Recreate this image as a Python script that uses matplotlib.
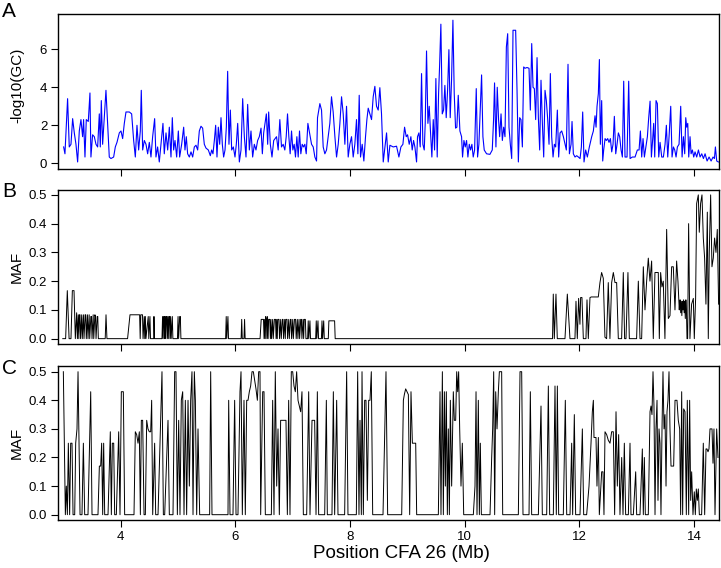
import matplotlib
matplotlib.use("Agg")
import matplotlib.pyplot as plt

plt.rcParams['font.family'] = ['Liberation Sans', 'DejaVu Sans']

# ---------------- Panel A : -log10(GC) ----------------
a_pos = [3.005, 3.028, 3.074, 3.103, 3.133, 3.162, 3.191, 3.220, 3.249, 3.278, 3.307, 3.336, 3.353, 3.377, 3.400,
         3.435, 3.464, 3.481, 3.510, 3.540, 3.569, 3.598, 3.627, 3.644, 3.662, 3.685, 3.714, 3.743, 3.772, 3.801,
         3.830, 3.877, 3.906, 3.935, 3.976, 4.005, 4.034, 4.063, 4.092, 4.150, 4.191, 4.226, 4.255, 4.284, 4.313,
         4.342, 4.359, 4.383, 4.412, 4.441, 4.470, 4.499, 4.528, 4.557, 4.592, 4.615, 4.644, 4.673, 4.702, 4.737,
         4.760, 4.790, 4.819, 4.848, 4.877, 4.900, 4.923, 4.947, 4.976, 5.005, 5.028, 5.063, 5.098, 5.121, 5.144,
         5.167, 5.197, 5.226, 5.255, 5.284, 5.313, 5.342, 5.371, 5.400, 5.429, 5.458, 5.487, 5.528, 5.563, 5.586,
         5.609, 5.633, 5.656, 5.679, 5.702, 5.726, 5.749, 5.772, 5.795, 5.819, 5.842, 5.865, 5.888, 5.912, 5.935,
         5.964, 5.993, 6.016, 6.040, 6.069, 6.098, 6.127, 6.156, 6.185, 6.214, 6.243, 6.272, 6.301, 6.330, 6.359,
         6.388, 6.417, 6.447, 6.470, 6.493, 6.516, 6.540, 6.563, 6.580, 6.609, 6.638, 6.668,
         6.717, 6.746, 6.775, 6.804, 6.833, 6.862, 6.886, 6.909, 6.932, 6.955, 6.979, 7.002, 7.025, 7.048, 7.072,
         7.095, 7.118, 7.141, 7.165, 7.188, 7.211, 7.235, 7.264, 7.293, 7.328, 7.357, 7.386, 7.415, 7.432, 7.473,
         7.502, 7.531, 7.560, 7.589, 7.618, 7.647, 7.676, 7.705, 7.735, 7.764, 7.793, 7.822, 7.851, 7.880, 7.909,
         7.938, 7.967, 7.996, 8.025, 8.054, 8.083, 8.112, 8.136, 8.159, 8.182, 8.211, 8.240, 8.269, 8.293, 8.316,
         8.345, 8.374, 8.403, 8.432, 8.461, 8.490, 8.519, 8.548, 8.578, 8.607, 8.636, 8.665, 8.694, 8.752, 8.810,
         8.851, 8.886, 8.921, 8.950, 8.979, 9.002, 9.031, 9.060, 9.083, 9.107, 9.130, 9.159, 9.176, 9.200, 9.223,
         9.246, 9.269, 9.293, 9.310, 9.333, 9.357, 9.380, 9.403, 9.426, 9.450, 9.473, 9.496, 9.519, 9.543, 9.560,
         9.583, 9.607, 9.630, 9.653, 9.676, 9.700, 9.723, 9.746, 9.769, 9.793, 9.816, 9.839, 9.862, 9.886, 9.915,
         9.944, 9.961, 9.985, 10.008, 10.031, 10.054, 10.078, 10.101, 10.124, 10.147, 10.171, 10.200, 10.223,
         10.246, 10.269, 10.293, 10.316, 10.339, 10.380, 10.438, 10.479, 10.502, 10.519, 10.543, 10.566, 10.589,
         10.608, 10.632, 10.655, 10.678, 10.701, 10.725, 10.748, 10.771, 10.794, 10.818, 10.841, 10.864, 10.887,
         10.911, 10.934, 10.957, 10.980, 11.004, 11.027, 11.050, 11.085, 11.120, 11.143, 11.167, 11.190, 11.213,
         11.236, 11.260, 11.283, 11.306, 11.329, 11.353, 11.376, 11.399, 11.422, 11.446, 11.469, 11.492, 11.515,
         11.539, 11.562, 11.585, 11.614, 11.637, 11.661, 11.690, 11.719, 11.748, 11.771, 11.800, 11.824, 11.853,
         11.870, 11.893, 11.922, 11.951, 11.981, 12.010, 12.033, 12.056, 12.079, 12.108, 12.137, 12.172, 12.213,
         12.242, 12.271, 12.289, 12.306, 12.329, 12.347, 12.364, 12.387, 12.405, 12.422, 12.446, 12.469, 12.492,
         12.515, 12.539, 12.562, 12.585, 12.608, 12.632, 12.655, 12.678, 12.701, 12.725, 12.748, 12.771, 12.794,
         12.829, 12.858, 12.882, 12.922, 12.969, 13.009, 13.039, 13.062, 13.085, 13.108, 13.132, 13.155, 13.184,
         13.207, 13.231, 13.254, 13.277, 13.294, 13.312, 13.335, 13.358, 13.382, 13.405, 13.434, 13.463, 13.492,
         13.515, 13.539, 13.562, 13.591, 13.614, 13.638, 13.661, 13.684, 13.707, 13.736, 13.765, 13.789, 13.812,
         13.835, 13.853, 13.870, 13.888, 13.905, 13.928, 13.946, 13.969, 13.992, 14.015, 14.044, 14.074, 14.103,
         14.132, 14.161, 14.190, 14.225, 14.260, 14.295, 14.329, 14.353, 14.370, 14.393, 14.422]
a_val = [0.86, 0.5, 3.4, 0.86, 1.0, 2.35, 1.6, 1.0, 0.07, 1.7, 2.3, 1.4, 2.3, 0.33, 2.3,
         2.2, 3.7, 0.33, 1.5, 1.4, 1.0, 0.86, 2.6, 0.86, 3.3, 1.0, 2.4, 3.84, 2.1, 0.33,
         0.25, 0.33, 0.86, 1.1, 1.6, 1.7, 1.3, 2.1, 2.7, 2.7, 2.6, 1.2, 0.33, 2.0, 0.7,
         1.7, 3.84, 0.7, 1.2, 1.0, 0.5, 1.1, 0.33, 1.4, 2.35, 0.33, 0.86, 0.07, 1.0, 2.1,
         0.5, 1.6, 0.7, 1.9, 0.33, 2.4, 0.7, 1.2, 0.33, 1.7, 0.33, 1.0, 1.9, 0.7, 1.4,
         0.5, 0.33, 0.6, 0.33, 0.86, 0.95, 0.7, 1.7, 1.95, 1.85, 1.0, 0.8, 0.7, 0.4, 0.7,
         0.5, 1.2, 2.0, 0.33, 1.9, 1.0, 2.4, 1.0, 0.33, 0.7, 1.9, 4.84, 1.0, 2.8, 0.7,
         0.86, 0.33, 1.0, 2.1, 0.07, 0.7, 3.4, 1.4, 0.33, 3.1, 0.7, 1.7, 0.33, 1.0, 0.7,
         1.2, 1.4, 1.85, 0.5, 1.6, 2.1, 2.6, 1.0, 2.7, 1.0, 0.33, 1.2,
         1.4, 0.7, 2.3, 0.86, 1.0, 0.7, 1.4, 2.6, 1.4, 0.5, 1.7, 0.7, 1.0, 0.33, 1.4,
         0.33, 1.7, 0.5, 1.0, 0.86, 1.0, 0.5, 2.1, 1.6, 1.0, 0.86, 0.33, 0.12, 2.4, 3.14,
         2.8, 0.86, 0.5, 0.7, 1.4, 2.1, 3.5, 2.7, 1.4, 0.33, 1.0, 2.1, 3.5, 2.6, 1.0,
         3.0, 0.33, 1.0, 1.4, 0.33, 1.0, 2.3, 0.5, 3.58, 0.33, 1.0, 0.12, 1.4, 2.3, 2.9,
         2.6, 2.3, 3.5, 4.05, 3.0, 2.8, 3.98, 2.6, 0.07, 0.86, 1.6, 0.07, 0.95, 0.86, 0.9,
         0.33, 0.86, 1.0, 1.9, 1.4, 1.5, 1.0, 1.4, 0.7, 1.2, 0.86, 0.07, 1.4, 1.6, 0.86,
         4.72, 1.0, 0.7, 2.1, 5.91, 2.1, 3.0, 1.6, 0.33, 2.3, 0.7, 4.46, 0.33, 3.67, 5.07,
         7.32, 2.6, 2.8, 4.1, 2.4, 3.84, 5.98, 2.4, 4.37, 7.53, 3.67, 1.85, 1.9, 3.58, 1.7,
         1.4, 0.33, 1.2, 0.86, 1.2, 0.33, 1.0, 0.7, 1.0, 0.33, 0.7, 3.93, 0.33,
         1.0, 2.8, 4.65, 1.4, 0.7, 0.5, 0.47, 0.7, 2.3, 4.23, 0.86, 4.0, 2.3,
         1.4, 2.6, 1.2, 1.9, 1.4, 6.12, 6.82, 1.9, 1.0, 0.25, 7.0, 7.0, 7.0,
         3.84, 0.07, 2.4, 2.3, 0.86, 5.07, 5.0, 5.04, 5.0, 2.8, 6.3, 4.0, 3.93,
         2.3, 5.56, 2.4, 0.7, 4.37, 2.1, 0.33, 3.84, 3.3, 2.3, 1.0, 4.72, 1.4,
         0.33, 1.0, 0.86, 2.8, 0.33, 1.6, 1.7, 1.4, 1.0, 0.7, 5.21, 0.5, 1.0,
         2.2, 0.5, 0.33, 0.4, 0.33, 0.25, 0.86, 2.7, 0.07, 0.7, 0.33, 0.86, 1.4,
         1.7, 2.5, 1.9, 3.0, 3.67, 5.46, 1.0, 3.3, 0.12, 0.7, 1.3, 1.2, 1.3,
         1.1, 1.3, 0.6, 1.0, 2.47, 0.5, 1.0, 1.6, 1.4, 0.7, 0.33, 4.32, 0.33,
         0.33, 4.32, 0.25, 0.33, 0.33, 0.7, 0.7, 1.7, 0.33, 1.3, 0.33, 0.8, 1.4,
         2.4, 3.27, 0.33, 1.3, 2.1, 0.33, 3.3, 3.14, 0.33, 1.1, 0.33, 0.33, 1.0,
         2.0, 0.33, 1.4, 3.0, 0.33, 0.86, 0.7, 0.33, 0.86, 1.0, 3.0, 0.33, 1.4,
         0.5, 2.4, 1.9, 2.1, 0.33, 1.4, 0.5, 0.7, 0.33, 0.6, 0.33, 0.7, 0.33,
         0.5, 0.25, 0.5, 0.12, 0.33, 0.12, 0.33, 0.25, 0.86, 0.12, 0.07]

# ---------------- Panel B : MAF ----------------
b_pos = [2.99, 3.04, 3.069, 3.10, 3.133, 3.157, 3.186, 3.209, 3.232, 3.245, 3.26, 3.27, 3.28, 3.29, 3.30,
         3.32, 3.33, 3.35, 3.36, 3.38, 3.39, 3.40, 3.42, 3.43, 3.45, 3.46, 3.48, 3.49, 3.50, 3.52, 3.53,
         3.55, 3.56, 3.57, 3.59, 3.60, 3.61, 3.73, 3.744, 3.76, 4.12, 4.162, 4.33, 4.34, 4.35, 4.38, 4.39,
         4.41, 4.42, 4.43, 4.44, 4.48, 4.49, 4.51, 4.52, 4.575, 4.58, 4.59, 4.72, 4.73, 4.74, 4.75, 4.76,
         4.765, 4.77, 4.78, 4.79, 4.80, 4.81, 4.82, 4.83, 4.84, 4.85, 4.86, 4.87, 4.88, 4.90, 4.91, 4.99,
         5.00, 5.01, 5.03, 5.04, 5.05, 5.83, 5.84, 5.85, 5.87, 5.88, 6.10, 6.11, 6.12, 6.15, 6.16, 6.17,
         6.43, 6.45, 6.49, 6.50, 6.51, 6.52, 6.53, 6.54, 6.55, 6.56, 6.57, 6.58, 6.60, 6.61, 6.62, 6.63,
         6.65, 6.66, 6.68, 6.70, 6.71, 6.72, 6.73, 6.74, 6.76, 6.77, 6.79, 6.80, 6.82, 6.83, 6.84, 6.86,
         6.87, 6.88, 6.90, 6.91, 6.93, 6.94, 6.96, 6.97, 6.98, 7.00, 7.01, 7.03, 7.05, 7.06, 7.08, 7.09,
         7.11, 7.12, 7.14, 7.15, 7.16, 7.18, 7.19, 7.20, 7.22, 7.23, 7.26, 7.27, 7.28, 7.30, 7.31, 7.40,
         7.41, 7.42, 7.44, 7.45, 7.50, 7.51, 7.52, 7.54, 7.55, 7.62, 7.63, 7.73, 7.74,
         11.53, 11.543, 11.561, 11.59, 11.613, 11.747, 11.788, 11.834, 11.921, 11.939, 11.962, 11.985,
         12.008, 12.02, 12.043, 12.067, 12.113, 12.131, 12.154, 12.183, 12.206, 12.328, 12.357, 12.386,
         12.415, 12.444, 12.473, 12.502, 12.531, 12.561, 12.59, 12.619, 12.648, 12.677, 12.735, 12.764,
         12.787, 12.811, 12.845, 12.869, 12.996, 13.026, 13.055, 13.084, 13.113, 13.142, 13.171, 13.2,
         13.229, 13.258, 13.287, 13.316, 13.345, 13.374, 13.392, 13.415, 13.438, 13.461, 13.49, 13.52,
         13.549, 13.578, 13.607, 13.636, 13.665, 13.694, 13.717, 13.74, 13.745, 13.755, 13.765, 13.775,
         13.785, 13.795, 13.805, 13.815, 13.825, 13.835, 13.845, 13.855, 13.865, 13.875, 13.886, 13.903,
         13.926, 13.955, 13.985, 14.002, 14.025, 14.043, 14.072, 14.089, 14.112, 14.136, 14.159, 14.182,
         14.205, 14.229, 14.246, 14.263, 14.287, 14.31, 14.333, 14.356, 14.38, 14.403, 14.426]
b_val = [0, 0, 0.167, 0, 0, 0.167, 0.167, 0, 0.09, 0, 0.083, 0, 0.083, 0.083, 0,
         0.083, 0, 0.083, 0, 0.083, 0.083, 0, 0.083, 0, 0.083, 0, 0.077, 0.077, 0, 0.083, 0,
         0.083, 0.077, 0, 0.077, 0.077, 0, 0, 0.083, 0, 0, 0.083, 0.083, 0, 0.083, 0.083, 0,
         0.077, 0, 0.077, 0, 0.077, 0, 0.077, 0, 0, 0.077, 0, 0, 0.077, 0, 0.077, 0.077,
         0, 0.077, 0, 0.077, 0.077, 0, 0.077, 0, 0.077, 0.077, 0, 0.077, 0, 0.077, 0, 0,
         0.077, 0, 0.077, 0.077, 0, 0, 0.077, 0, 0.077, 0, 0, 0.067, 0, 0, 0.067, 0,
         0, 0.067, 0.067, 0, 0.067, 0, 0.077, 0.067, 0, 0.077, 0, 0.067, 0.067, 0, 0.067, 0,
         0.067, 0, 0.067, 0.067, 0, 0.067, 0, 0.067, 0.067, 0, 0.067, 0, 0.067, 0.067, 0, 0.067,
         0, 0.067, 0.067, 0, 0.067, 0, 0.067, 0.067, 0, 0.067, 0, 0.067, 0.067, 0, 0.067, 0,
         0.067, 0, 0.067, 0.067, 0, 0.067, 0, 0.067, 0.067, 0, 0, 0.062, 0, 0.062, 0, 0,
         0.062, 0, 0.062, 0, 0, 0.062, 0, 0.062, 0, 0, 0.062, 0.062, 0,
         0, 0.155, 0, 0.155, 0, 0, 0.155, 0, 0, 0.13, 0, 0.14,
         0.05, 0.143, 0.143, 0, 0, 0.135, 0, 0.143, 0.145, 0.145, 0.195, 0.23,
         0.21, 0.005, 0, 0.195, 0, 0.195, 0.23, 0.195, 0.195, 0, 0, 0.23,
         0, 0, 0.23, 0, 0, 0.2, 0, 0, 0.25, 0.1, 0.2, 0.28,
         0.2, 0.27, 0, 0.23, 0.23, 0.23, 0, 0.23, 0.18, 0.2, 0, 0.38,
         0.07, 0.08, 0.25, 0.25, 0.1, 0.27, 0.2, 0.1, 0.12, 0.135, 0.09, 0.13,
         0.08, 0.13, 0.1, 0.135, 0.09, 0.13, 0.07, 0.135, 0.1, 0.0, 0, 0.4,
         0, 0.12, 0.14, 0, 0.14, 0.47, 0.5, 0.37, 0.47, 0.5, 0.35, 0.28,
         0.12, 0.44, 0, 0.3, 0.5, 0.25, 0.28, 0.35, 0.3, 0.38, 0.12]

# ---------------- Panel C : MAF ----------------
c_pos = [3.0, 3.035, 3.052, 3.070, 3.087, 3.110, 3.128, 3.151, 3.169, 3.198, 3.215, 3.238, 3.256, 3.273, 3.291,
         3.325, 3.349, 3.372, 3.430, 3.477, 3.500, 3.604, 3.628, 3.651, 3.668, 3.686, 3.703, 3.721, 3.779, 3.819,
         3.837, 3.854, 3.878, 3.895, 3.924, 3.965, 3.988, 4.011, 4.046, 4.069, 4.232, 4.255, 4.279, 4.302, 4.325,
         4.343, 4.360, 4.383, 4.407, 4.430, 4.453, 4.476, 4.499, 4.523, 4.540, 4.558, 4.592, 4.610, 4.651, 4.720,
         4.744, 4.767, 4.825, 4.848, 4.912, 4.941, 4.964, 4.988, 5.011, 5.034, 5.057, 5.081, 5.104, 5.127, 5.150,
         5.174, 5.197, 5.220, 5.243, 5.261, 5.284, 5.302, 5.325, 5.348, 5.377, 5.551, 5.569, 5.592, 5.871, 5.883,
         5.906, 5.958, 5.987, 6.011, 6.045, 6.080, 6.098, 6.121, 6.150, 6.173, 6.197, 6.220, 6.243, 6.266, 6.290,
         6.313, 6.336, 6.359, 6.383, 6.406, 6.429, 6.441, 6.476, 6.499, 6.522, 6.627, 6.650, 6.673, 6.696, 6.720,
         6.743, 6.766, 6.789, 6.813, 6.836, 6.882, 6.906, 6.929, 6.952, 6.975, 6.999, 7.022, 7.045, 7.068, 7.092,
         7.115, 7.138, 7.161, 7.185, 7.243, 7.278, 7.301, 7.336, 7.359, 7.382, 7.406, 7.429, 7.452, 7.557, 7.586,
         7.603, 7.684, 7.708, 7.731, 7.766, 7.789, 7.905, 7.940, 7.963, 8.109, 8.132, 8.155, 8.173, 8.196, 8.208,
         8.231, 8.254, 8.277, 8.301, 8.324, 8.347, 8.370, 8.394, 8.487, 8.574,
         8.626, 8.655, 8.900, 8.929, 8.946, 8.969, 8.993, 9.016, 9.039, 9.062, 9.086, 9.120, 9.144, 9.161, 9.539,
         9.568, 9.585, 9.609, 9.626, 9.644, 9.661, 9.678, 9.696, 9.713, 9.731, 9.748, 9.771, 9.800, 9.818, 9.841,
         9.859, 9.876, 9.893, 9.911, 9.934, 9.957, 9.981, 10.149, 10.178, 10.196, 10.213, 10.236, 10.254, 10.271,
         10.289, 10.440, 10.469, 10.486, 10.504, 10.521, 10.539, 10.562, 10.585, 10.603, 10.620, 10.643, 10.661,
         10.934, 10.963, 10.992, 11.015, 11.120, 11.143, 11.166, 11.283, 11.329, 11.352, 11.428, 11.457, 11.480,
         11.544, 11.573, 11.596, 11.614, 11.637, 11.718, 11.753, 11.777, 11.835, 11.864, 11.881, 11.910, 11.933,
         12.009, 12.050, 12.073, 12.125, 12.166, 12.201, 12.224, 12.242, 12.253, 12.271, 12.288, 12.305, 12.329,
         12.346, 12.387, 12.410, 12.427, 12.445, 12.474, 12.503, 12.532, 12.561, 12.590, 12.613, 12.637, 12.660,
         12.683, 12.706, 12.736, 12.759, 12.782, 12.805, 12.852, 12.881, 12.898, 12.939, 12.980, 12.997, 13.055,
         13.096, 13.113, 13.131, 13.148, 13.200, 13.230, 13.247, 13.264, 13.282, 13.299, 13.317, 13.334, 13.352,
         13.369, 13.387, 13.404, 13.421, 13.439, 13.456, 13.474, 13.491, 13.509, 13.526, 13.543, 13.561, 13.578,
         13.596, 13.619, 13.642, 13.666, 13.683, 13.700, 13.723, 13.747, 13.764, 13.782, 13.799, 13.817, 13.840,
         13.863, 13.880, 13.904, 13.921, 13.939, 13.956, 13.979, 14.002, 14.020, 14.037, 14.055, 14.072, 14.090,
         14.130, 14.159, 14.183, 14.206, 14.223, 14.241, 14.258, 14.276, 14.293, 14.311, 14.328, 14.345, 14.363,
         14.392, 14.415]
c_val = [0.5, 0, 0.1, 0, 0.25, 0, 0.25, 0.25, 0, 0, 0.25, 0.3, 0.5, 0.25, 0,
         0, 0.25, 0, 0, 0.43, 0, 0, 0.17, 0.17, 0.25, 0, 0.25, 0, 0, 0.29,
         0, 0.25, 0.25, 0, 0, 0.29, 0, 0.43, 0.43, 0, 0, 0.29, 0.28, 0.25, 0.29,
         0, 0.33, 0.33, 0, 0, 0.33, 0.3, 0.29, 0.29, 0.4, 0, 0.25, 0, 0, 0.5,
         0, 0, 0.33, 0, 0, 0.5, 0.5, 0, 0.33, 0, 0.4, 0.43, 0, 0.4, 0,
         0.4, 0.1, 0.4, 0.5, 0, 0.5, 0.4, 0, 0.3, 0, 0, 0.5, 0, 0, 0.4,
         0, 0, 0.4, 0, 0, 0.43, 0.5, 0, 0.4, 0, 0.4, 0.4, 0.43, 0.45, 0.5,
         0.5, 0.47, 0.44, 0.4, 0.5, 0.5, 0, 0.43, 0.43, 0, 0, 0.4, 0, 0.5, 0.1,
         0.3, 0, 0.33, 0.33, 0.33, 0.33, 0, 0.4, 0, 0.5, 0.5, 0.45, 0.43, 0.5, 0.4,
         0.38, 0.36, 0.43, 0, 0, 0.43, 0, 0.33, 0.33, 0.33, 0, 0.43, 0, 0, 0.4,
         0, 0, 0.43, 0, 0.4, 0, 0, 0.5, 0, 0, 0.5, 0, 0.33, 0, 0.5,
         0, 0.4, 0.4, 0.05, 0.4, 0.4, 0.5, 0, 0, 0,
         0.5, 0, 0, 0.4, 0.42, 0.44, 0.43, 0.42, 0, 0.43, 0.25, 0.25, 0.25, 0, 0,
         0.43, 0, 0.5, 0, 0.43, 0.1, 0.43, 0, 0.3, 0, 0.4, 0.1, 0.43, 0.33, 0.33,
         0.5, 0.43, 0.5, 0.3, 0.1, 0.25, 0, 0, 0.1, 0.43, 0, 0.4, 0, 0.25,
         0, 0, 0.2, 0.3, 0.5, 0, 0.43, 0.3, 0.43, 0.5, 0.5, 0.5, 0,
         0, 0.5, 0.5, 0, 0, 0.43, 0, 0, 0.38, 0, 0, 0.45, 0,
         0, 0.45, 0, 0.45, 0, 0, 0.4, 0, 0, 0.25, 0, 0.35, 0,
         0, 0.3, 0, 0, 0.1, 0.25, 0.36, 0.4, 0.27, 0.27, 0.27, 0.1, 0.27,
         0, 0.15, 0.15, 0, 0.29, 0.28, 0.26, 0.25, 0.29, 0.29, 0, 0.36, 0.1,
         0.28, 0, 0.2, 0, 0.25, 0, 0, 0.25, 0, 0, 0.15, 0, 0,
         0.23, 0, 0.2, 0, 0, 0.36, 0.38, 0.35, 0.5, 0.38, 0, 0.3, 0.4,
         0.05, 0.3, 0.25, 0, 0.3, 0.5, 0.3, 0.35, 0.1, 0.36, 0.4, 0.5, 0.3,
         0.17, 0.17, 0.17, 0.4, 0.4, 0.4, 0.33, 0.3, 0, 0.43, 0, 0.37, 0.36,
         0, 0.4, 0, 0.4, 0.05, 0.15, 0, 0.08, 0, 0.09, 0.05, 0.09, 0,
         0, 0.25, 0, 0.23, 0.23, 0.22, 0.23, 0.3, 0.3, 0.3, 0.18, 0.3, 0,
         0.3, 0.2]

x_ticks = [4, 6, 8, 10, 12, 14]
a_yticks = [0, 2, 4, 6]
maf_yticks = [0.0, 0.1, 0.2, 0.3, 0.4, 0.5]
x_label = "Position CFA 26 (Mb)"
a_ylabel = "-log10(GC)"
maf_ylabel = "MAF"

fig = plt.figure(figsize=(7.21, 5.68), dpi=100)
L, W = 58.3 / 721, 661.0 / 721
axA = fig.add_axes([L, 1 - 169.3 / 568, W, 155.0 / 568])
axB = fig.add_axes([L, 1 - 344.0 / 568, W, 154.0 / 568])
axC = fig.add_axes([L, 1 - 520.3 / 568, W, 154.6 / 568])

axA.plot(a_pos, a_val, color='#0000ff', lw=0.8)
axB.plot(b_pos, b_val, color='black', lw=0.7)
axC.plot(c_pos, c_val, color='black', lw=0.7)

axA.set_ylim(-0.316, 7.84)
axB.set_ylim(-0.0186, 0.517)
axC.set_ylim(-0.0196, 0.521)
axA.set_yticks(a_yticks)
axB.set_yticks(maf_yticks)
axC.set_yticks(maf_yticks)

for ax in (axA, axB, axC):
    ax.set_xlim(2.912, 14.438)
    ax.set_xticks(x_ticks)
    ax.tick_params(direction='out', length=5, width=0.8, labelsize=9.5, pad=3, colors='black')
    for s in ax.spines.values():
        s.set_linewidth(1.0)
        s.set_color('black')

axA.tick_params(axis='x', labelbottom=False)
axB.tick_params(axis='x', labelbottom=False)

axA.set_ylabel(a_ylabel, fontsize=11)
axB.set_ylabel(maf_ylabel, fontsize=11)
axC.set_ylabel(maf_ylabel, fontsize=11)
for ax, yc in ((axA, 0.544), (axB, 0.5), (axC, 0.5)):
    ax.yaxis.label.set_va('center')
    ax.yaxis.set_label_coords(-0.0625, yc)

fig.text(401.5 / 721, 1 - 553 / 568, x_label, fontsize=13.5, ha='center', va='center')

for letter, yb in (("A", 17), ("B", 197), ("C", 374)):
    fig.text(2 / 721, 1 - yb / 568, letter, fontsize=15, ha='left', va='baseline')

fig.savefig("out.png", dpi=100)
